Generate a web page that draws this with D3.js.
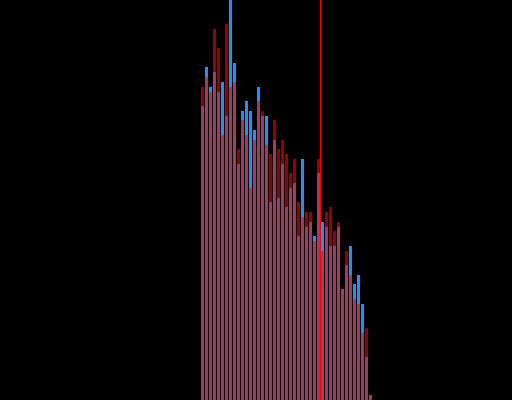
<!DOCTYPE html>
<html>
<head>
<meta charset="utf-8">
<script src="https://cdn.jsdelivr.net/npm/d3@7"></script>
<style>
  body { margin: 0; background: #000; }
  svg { display: block; }
</style>
</head>
<body>
<div id="drawing_region"></div>
<script>
// bins start at 50, width 1 (43 bins)
const binStart = 50;
const blueCounts = [61, 69, 65, 68, 64, 66, 59, 83, 70, 49, 60, 62, 60, 56, 65, 59, 59, 41, 54, 42,
    49, 40, 44, 45, 34, 50, 36, 37, 34, 47, 37, 36, 32, 32, 36, 23, 28, 32, 24, 26, 20, 9, 1];
const redCounts = [65, 67, 64, 77, 73, 55, 78, 65, 66, 52, 58, 55, 44, 54, 62, 60, 53, 51, 58, 52,
    54, 51, 47, 50, 41, 38, 39, 39, 33, 50, 31, 39, 40, 35, 37, 23, 31, 26, 21, 20, 14, 15, 1];
const markerValue = 80;

const config = {
    parent: '#drawing_region',
    width: 512,
    height: 400,
};

const svg = d3.select(config.parent)
    .append('svg')
    .attr('width', config.width)
    .attr('height', config.height);

svg.append('rect')
    .attr('width', config.width)
    .attr('height', config.height)
    .attr('fill', '#000');

const x = d3.scaleLinear().domain([0, 128]).range([0, config.width]);
const y = d3.scaleLinear().domain([0, d3.max(blueCounts)]).range([config.height, 0]);

const toBins = counts => counts.map((c, i) => ({ x0: binStart + i, x1: binStart + i + 1, count: c }));

function drawBars(counts, color, opacity) {
    svg.append('g')
        .selectAll('rect')
        .data(toBins(counts))
        .enter()
        .append('rect')
        .attr('x', d => x(d.x0) + 1)
        .attr('width', d => x(d.x1) - x(d.x0) - 1)
        .attr('y', d => y(d.count))
        .attr('height', d => config.height - y(d.count))
        .attr('fill', color)
        .attr('fill-opacity', opacity)
        .attr('shape-rendering', 'crispEdges');
}

drawBars(blueCounts, '#1e90ff', 1);
drawBars(redCounts, '#ff0000', 0.6);

svg.append('line')
    .attr('x1', x(markerValue) + 0.5)
    .attr('x2', x(markerValue) + 0.5)
    .attr('y1', 0)
    .attr('y2', config.height)
    .attr('stroke', '#ff0000')
    .attr('stroke-width', 1);
</script>
</body>
</html>
